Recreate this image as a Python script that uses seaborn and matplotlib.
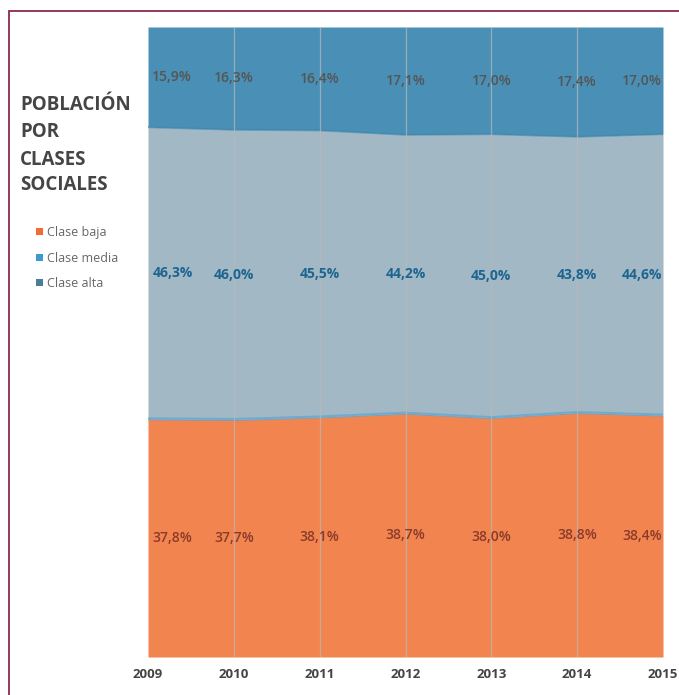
import numpy as np
import pandas as pd
import seaborn as sns
import matplotlib.pyplot as plt
from matplotlib.patches import Patch, Rectangle

## DATA ##
years = [2009, 2010, 2011, 2012, 2013, 2014, 2015]
clase_baja = [37.8, 37.7, 38.1, 38.7, 38.0, 38.8, 38.4]
clase_media = [46.3, 46.0, 45.5, 44.2, 45.0, 43.8, 44.6]
clase_alta = [15.9, 16.3, 16.4, 17.1, 17.0, 17.4, 17.0]
series_names = ['Clase baja', 'Clase media', 'Clase alta']
title_lines = ['POBLACIÓN', 'POR', 'CLASES', 'SOCIALES']

df = pd.DataFrame({'year': years, 'Clase baja': clase_baja,
                   'Clase media': clase_media, 'Clase alta': clase_alta})
df['top_baja'] = df['Clase baja']
df['top_media'] = df['Clase baja'] + df['Clase media']
df['top_alta'] = df['top_media'] + df['Clase alta']

## STYLE ##
sns.set_theme(style='white')
plt.rcParams['font.family'] = ['Open Sans', 'DejaVu Sans']

fill_colors = ['#f2854f', '#a3b8c5', '#4a90b6']
legend_colors = ['#f26b35', '#3b9ad0', '#4d7c96']
label_colors = ['#8a3a2a', '#1d6591', '#555555']

fig = plt.figure(figsize=(6.79, 6.95), dpi=100)
ax = fig.add_axes([148 / 679, 1 - 657 / 695, (663 - 148) / 679, (657 - 27) / 695])

# stacked areas
ax.fill_between(df.year, 0, df.top_baja, color=fill_colors[0], lw=0, zorder=1)
ax.fill_between(df.year, df.top_baja, df.top_media, color=fill_colors[1], lw=0, zorder=1)
ax.fill_between(df.year, df.top_media, df.top_alta, color=fill_colors[2], lw=0, zorder=1)

# soft edges between bands
sns.lineplot(x=df.year, y=df.top_baja, ax=ax, color='#5aa6d3', lw=2.2, alpha=0.7, zorder=2)
sns.lineplot(x=df.year, y=df.top_media, ax=ax, color='#3f87ad', lw=1.5, alpha=0.6, zorder=2)

# vertical gridlines
for yr in years[1:-1]:
    ax.axvline(yr, color='#b9b9b9', lw=0.9, alpha=0.7, zorder=3)

ax.set_xlim(years[0], years[-1])
ax.set_ylim(0, 100)
ax.set_xlabel('')
ax.set_ylabel('')
ax.set_yticks([])
ax.set_xticks(years)
ax.set_xticklabels([str(y) for y in years], fontsize=9.5, fontweight='bold', color='#444444')
ax.tick_params(axis='x', length=0, pad=8)
for s in ax.spines.values():
    s.set_visible(False)

# data labels at band midpoints
bottoms = [np.zeros(len(years)), df.top_baja.values, df.top_media.values]
vals = [clase_baja, clase_media, clase_alta]
weights = ['semibold', 'bold', 'semibold']
for k in range(3):
    for i, yr in enumerate(years):
        mid = bottoms[k][i] + vals[k][i] / 2
        txt = f'{vals[k][i]:.1f}%'.replace('.', ',')
        if i == 0:
            x, ha = yr + 0.05, 'left'
        elif i == len(years) - 1:
            x, ha = yr - 0.01, 'right'
        else:
            x, ha = yr, 'center'
        ax.text(x, mid, txt, ha=ha, va='center', fontsize=10,
                fontweight=weights[k], color=label_colors[k], zorder=4)

# title
title_y = [105, 132, 160, 185]
for line, yp in zip(title_lines, title_y):
    fig.text(20 / 679, 1 - yp / 695, line, ha='left', va='center',
             fontsize=13.5, fontweight='bold', color='#454545')

# legend
handles = [Patch(facecolor=c, edgecolor='none') for c in legend_colors]
fig.legend(handles, series_names, loc='upper left', bbox_to_anchor=(25 / 679, 1 - 215 / 695),
           frameon=False, fontsize=9, handlelength=0.5, handleheight=0.5,
           handletextpad=0.35, labelspacing=1.0, labelcolor='#666666')

# outer frame
fig.add_artist(Rectangle((8.5 / 679, -0.1), 1.2, 1.1 - 11.5 / 695,
                         transform=fig.transFigure, fill=False,
                         edgecolor='#8e2a4c', lw=1.3))

fig.savefig('out.png', dpi=100)
